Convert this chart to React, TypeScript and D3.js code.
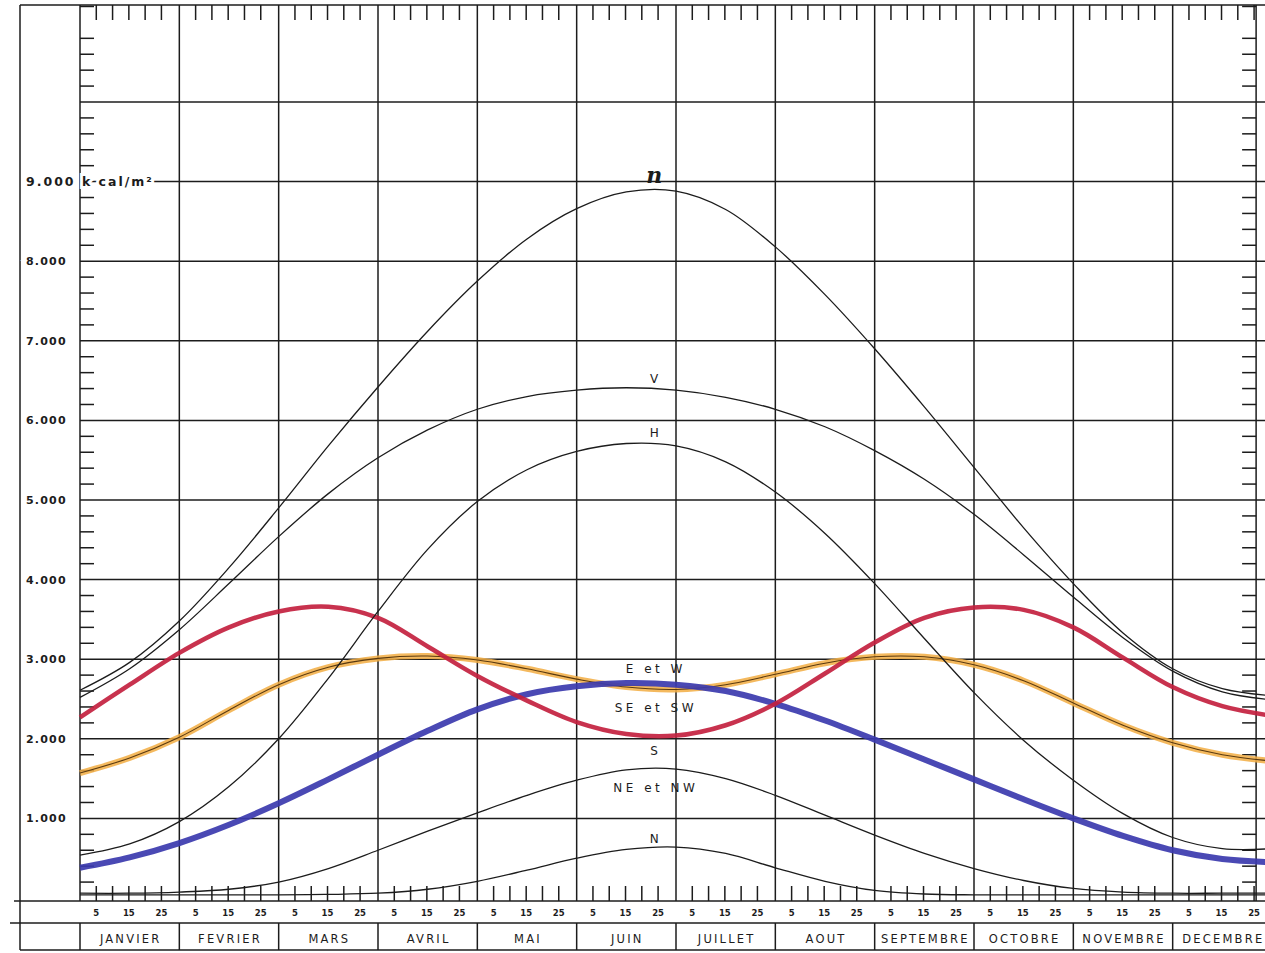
import React, { useEffect, useRef } from 'react';
import { select, scaleLinear, line, curveCatmullRom, range } from 'd3';

// month names along the bottom strip
const months = ['JANVIER', 'FEVRIER', 'MARS', 'AVRIL', 'MAI', 'JUIN', 'JUILLET', 'AOUT', 'SEPTEMBRE', 'OCTOBRE', 'NOVEMBRE', 'DECEMBRE'];
const dayTicks = [5, 10, 15, 20, 25];
const dayLabels = [5, 15, 25];
const gridValues = [1000, 2000, 3000, 4000, 5000, 6000, 7000, 8000, 9000, 10000];
const yLabels = ['1.000', '2.000', '3.000', '4.000', '5.000', '6.000', '7.000', '8.000', '9.000 k cal/m²'];

// sample points every half month, 1 Jan -> 31 Dec
const halfMonths = [0, 0.5, 1, 1.5, 2, 2.5, 3, 3.5, 4, 4.5, 5, 5.5, 6, 6.5, 7, 7.5, 8, 8.5, 9, 9.5, 10, 10.5, 11, 11.5, 12];

// k cal / m2 per day
const rnValues = [2610, 2960, 3480, 4150, 4900, 5680, 6420, 7120, 7750, 8280, 8660, 8870, 8880, 8650, 8180, 7580, 6900, 6170, 5410, 4650, 3950, 3330, 2880, 2630, 2540];
const vValues = [2520, 2880, 3370, 3950, 4540, 5080, 5530, 5880, 6140, 6300, 6380, 6410, 6380, 6290, 6140, 5920, 5620, 5260, 4820, 4310, 3780, 3270, 2850, 2590, 2490];
const hValues = [540, 680, 960, 1400, 2000, 2760, 3600, 4380, 4980, 5380, 5610, 5710, 5680, 5480, 5100, 4580, 3950, 3260, 2580, 1980, 1480, 1060, 760, 620, 620];
const sValues = [2270, 2680, 3080, 3400, 3600, 3660, 3520, 3160, 2790, 2480, 2210, 2060, 2040, 2170, 2440, 2820, 3210, 3520, 3650, 3620, 3400, 3020, 2650, 2410, 2290];
const seSwValues = [1570, 1760, 2020, 2360, 2680, 2900, 3010, 3040, 2990, 2880, 2750, 2650, 2620, 2680, 2810, 2950, 3030, 3030, 2930, 2730, 2450, 2170, 1950, 1800, 1720];
const eWValues = [380, 510, 690, 920, 1190, 1490, 1800, 2100, 2370, 2560, 2660, 2700, 2680, 2600, 2440, 2230, 1990, 1740, 1490, 1240, 1000, 780, 600, 490, 450];
const neNwValues = [60, 60, 75, 110, 200, 370, 600, 840, 1070, 1290, 1480, 1610, 1620, 1500, 1290, 1040, 790, 560, 370, 220, 120, 75, 60, 60, 60];
const nValues = [40, 40, 40, 40, 40, 45, 60, 110, 210, 350, 500, 610, 640, 560, 380, 210, 95, 50, 40, 40, 40, 40, 40, 40, 40];

const W = 1265;
const H = 953;
const TOP = 5;
const BASE = 901;
const ROW = 923;
const BOTTOM = 950;
const FRAME_LEFT = 20;
const INK = '#1c1c1c';
const FONT = '"DejaVu Sans", sans-serif';

const App = () => {
  const svgRef = useRef<SVGSVGElement>(null);

  useEffect(() => {
    const svg = select(svgRef.current);
    svg.selectAll('*').remove();

    const x = scaleLinear().domain([0, 12]).range([80, 1272]);
    const y = scaleLinear().domain([0, 10000]).range([898, 102]);
    const axisRight = x(11.84);
    const dayX = (m: number, d: number) => x(m + d / 30.5);

    const grid = svg.append('g').attr('stroke', INK).attr('stroke-width', 1.5);
    const hline = (y0: number, x0: number, x1: number) =>
      grid.append('line').attr('x1', x0).attr('x2', x1).attr('y1', y0).attr('y2', y0);
    const vline = (x0: number, y0: number, y1: number) =>
      grid.append('line').attr('x1', x0).attr('x2', x0).attr('y1', y0).attr('y2', y1);

    // frame
    hline(TOP, FRAME_LEFT, W);
    hline(BASE, 14, W);
    hline(ROW, 10, W);
    hline(BOTTOM, FRAME_LEFT, W);
    vline(FRAME_LEFT, TOP, BOTTOM);
    vline(x(0), TOP, BASE);
    vline(axisRight, TOP, BASE);

    // months
    range(0, 13).forEach(m => {
      if (m > 0 && m < 12) vline(x(m), TOP, BASE);
      vline(x(m), ROW, BOTTOM);
    });

    // horizontal grid
    gridValues.forEach(v => hline(y(v), x(0), W));

    // minor ticks on both value axes
    range(200, 11201, 200).filter(v => v % 1000 !== 0).forEach(v => {
      grid.append('line').attr('x1', x(0)).attr('x2', x(0) + 14).attr('y1', y(v)).attr('y2', y(v));
      grid.append('line').attr('x1', axisRight - 14).attr('x2', axisRight).attr('y1', y(v)).attr('y2', y(v));
    });

    // day ticks top and bottom
    range(0, 12).forEach(m => {
      dayTicks.forEach(d => {
        vline(dayX(m, d), TOP, TOP + 15);
        vline(dayX(m, d), BASE - 15, BASE);
      });
    });

    // curves
    const path = line<number>()
      .x((_, i) => x(halfMonths[i]))
      .y(v => y(v))
      .curve(curveCatmullRom.alpha(0.5));

    const curves = svg.append('g').attr('fill', 'none');

    curves.append('path').attr('d', path(seSwValues)).attr('stroke', '#f2ad42').attr('stroke-width', 6).attr('opacity', 0.85);
    curves.append('path').attr('d', path(seSwValues)).attr('stroke', '#5a3a10').attr('stroke-width', 1.1);
    curves.append('path').attr('d', path(eWValues)).attr('stroke', '#3b3aae').attr('stroke-width', 6).attr('opacity', 0.92);
    curves.append('path').attr('d', path(sValues)).attr('stroke', '#c3213f').attr('stroke-width', 4.5).attr('opacity', 0.92);

    [rnValues, vValues, hValues, neNwValues, nValues].forEach(values => {
      curves.append('path').attr('d', path(values)).attr('stroke', INK).attr('stroke-width', 1.3);
    });

    // text
    const text = svg.append('g').attr('fill', INK).attr('font-family', FONT);

    yLabels.forEach((label, i) => {
      const isUnit = i === yLabels.length - 1;
      text.append('text')
        .attr('x', 26)
        .attr('y', y(gridValues[i]) + 4)
        .attr('font-size', isUnit ? 12.5 : 11)
        .attr('font-weight', 'bold')
        .attr('letter-spacing', isUnit ? 2 : 1.2)
        .attr('stroke', '#fff')
        .attr('stroke-width', 6)
        .attr('paint-order', 'stroke')
        .text(label);
    });

    range(0, 12).forEach(m => {
      dayLabels.forEach(d => {
        text.append('text')
          .attr('x', dayX(m, d))
          .attr('y', 916)
          .attr('text-anchor', 'middle')
          .attr('font-size', 8.5)
          .attr('font-weight', 'bold')
          .text(d);
      });
      text.append('text')
        .attr('x', x(m + 0.5) + 1)
        .attr('y', 943)
        .attr('text-anchor', 'middle')
        .attr('font-size', 11.5)
        .attr('letter-spacing', 2.2)
        .text(months[m]);
    });

    // curve names, stacked near the June peak
    const labelX = x(5.78);
    const curveLabels = [
      { name: 'V', level: 6530 },
      { name: 'H', level: 5850 },
      { name: 'E et W', level: 2890 },
      { name: 'SE et SW', level: 2400 },
      { name: 'S', level: 1860 },
      { name: 'NE et NW', level: 1395 },
      { name: 'N', level: 755 },
    ];
    curveLabels.forEach(l => {
      const spacing = l.name.length > 1 ? 3.5 : 0;
      text.append('text')
        .attr('x', labelX + spacing / 2)
        .attr('y', y(l.level) + 5)
        .attr('text-anchor', 'middle')
        .attr('font-size', 12)
        .attr('letter-spacing', spacing)
        .text(l.name);
    });
    text.append('text')
      .attr('x', labelX)
      .attr('y', y(9080) + 8)
      .attr('text-anchor', 'middle')
      .attr('font-family', '"DejaVu Serif", serif')
      .attr('font-style', 'italic')
      .attr('font-weight', 'bold')
      .attr('font-size', 22)
      .text('n');
  }, []);

  return (
    <svg
      ref={svgRef}
      width={W}
      height={H}
      style={{ position: 'absolute', left: 0, top: 0, background: '#fff' }}
    />
  );
};

export default App;
